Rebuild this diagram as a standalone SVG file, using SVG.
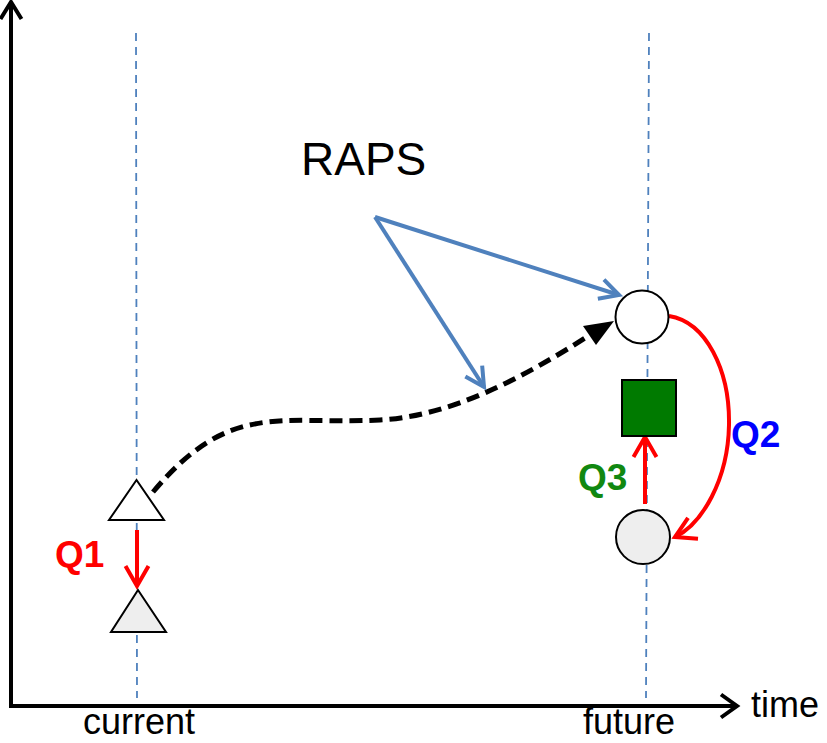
<svg xmlns="http://www.w3.org/2000/svg" width="827" height="743" viewBox="0 0 827 743">
<style>
.guide{stroke:#4f81bd;stroke-width:1.8;stroke-dasharray:8,6;fill:none}
.axis{stroke:#000;stroke-width:4;fill:none}
.red{stroke:#ff0000;stroke-width:4;fill:none}
.blue{stroke:#4f81bd;stroke-width:4;fill:none}
.lbl{font-family:"Liberation Sans",Arial,sans-serif;font-size:36px;fill:#000}
.q{font-family:"Liberation Sans",Arial,sans-serif;font-size:37px;font-weight:bold}
.node{stroke:#000;stroke-width:2}
</style>
<defs>
<marker id="ar" markerUnits="userSpaceOnUse" markerWidth="40" markerHeight="40" viewBox="-25 -20 40 40" refX="0" refY="0" orient="auto" overflow="visible">
<path d="M-20,-11.5 L0,0 L-20,11.5" fill="none" stroke="#ff0000" stroke-width="4"/>
</marker>
<marker id="ab" markerUnits="userSpaceOnUse" markerWidth="40" markerHeight="40" viewBox="-25 -20 40 40" refX="0" refY="0" orient="auto" overflow="visible">
<path d="M-19,-10 L0,0 L-19,10" fill="none" stroke="#4f81bd" stroke-width="4"/>
</marker>
</defs>
<rect width="827" height="743" fill="#fff"/>
<g id="guides">
<line class="guide" x1="136" y1="33" x2="137" y2="698"/>
<line class="guide" x1="649" y1="33" x2="646" y2="698"/>
</g>
<g id="axes">
<polyline class="axis" points="11,4 11,706 734,706"/>
<polyline class="axis" points="0.5,19 11,2 21.5,19"/>
<polyline class="axis" points="721,694.5 737,706 721,717.5"/>
</g>
<g id="connectors">
<path d="M153,492 C230,400 280,425 380,420 C450,416 520,380 593,333" fill="none" stroke="#000" stroke-width="5" stroke-dasharray="13,7"/>
<polygon points="614,321 596,345 583,326" fill="#000"/>
<line class="blue" x1="375" y1="217" x2="619" y2="295" marker-end="url(#ab)"/>
<line class="blue" x1="375" y1="217" x2="484" y2="387" marker-end="url(#ab)"/>
<line class="red" x1="137" y1="530" x2="137" y2="586" marker-end="url(#ar)"/>
<line class="red" x1="645" y1="504" x2="645" y2="437" marker-end="url(#ar)"/>
<path class="red" d="M669,316 C706,322 730,370 729,425 C728,480 702,524 675,537" marker-end="url(#ar)"/>
</g>
<g id="tri1"><polygon class="node" points="136.5,480 109,520 164,520" fill="#fff"/></g>
<g id="tri2"><polygon class="node" points="138,590 111,632 166,632" fill="#eeeeee"/></g>
<g id="circ1"><circle class="node" cx="642" cy="317" r="26.5" fill="#fff"/></g>
<g id="square"><rect class="node" x="622" y="380" width="54" height="56" fill="#007a00" stroke="#333"/></g>
<g id="circ2"><circle class="node" cx="643" cy="537" r="27" fill="#eeeeee"/></g>
<g id="labels">
<text x="301" y="175" font-family="Liberation Sans,Arial,sans-serif" font-size="46" fill="#000">RAPS</text>
<text class="q" x="55" y="567" fill="#ff0000">Q1</text>
<text class="q" x="731" y="447" fill="#0000ff">Q2</text>
<text class="q" x="578" y="490" fill="#118811">Q3</text>
<text class="lbl" x="83" y="734">current</text>
<text class="lbl" x="583" y="734">future</text>
<text class="lbl" x="751" y="717">time</text>
</g>
</svg>
